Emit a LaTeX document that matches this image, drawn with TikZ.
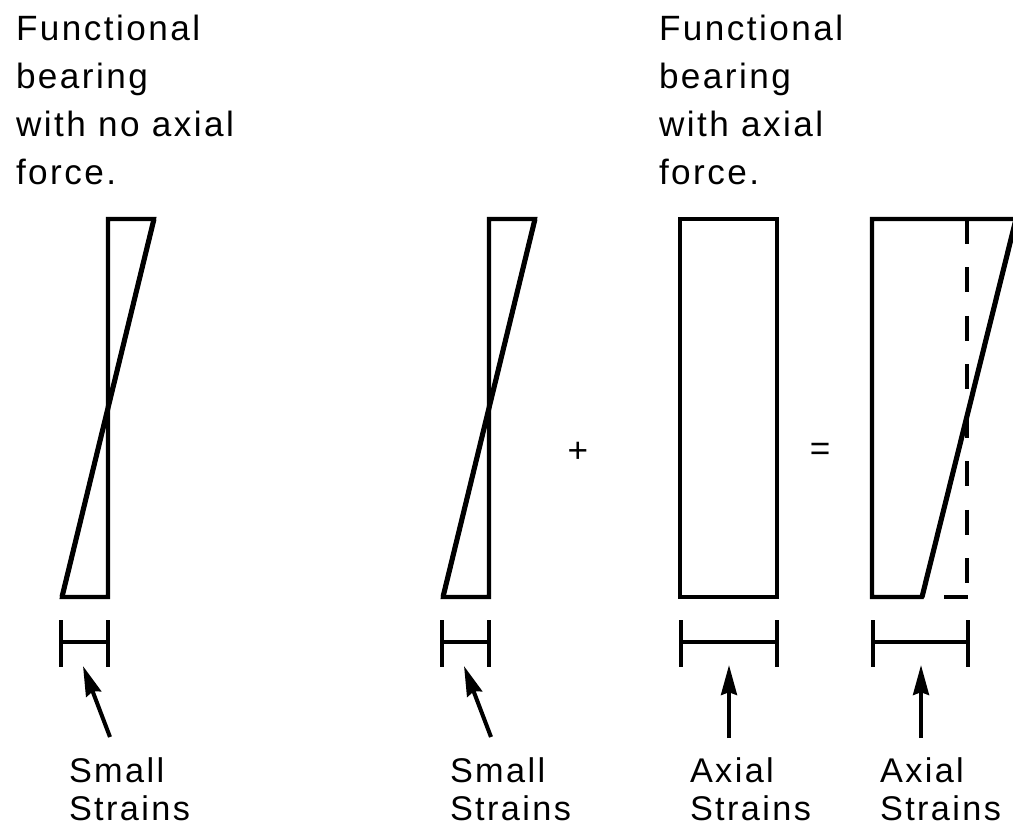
\documentclass[tikz,border=0pt]{standalone}
\usepackage{fontspec}
\setmainfont{Liberation Sans}[LetterSpace=7]
\usetikzlibrary{arrows.meta}
\begin{document}
\begin{tikzpicture}[x=.02cm, y=-.02cm, >={Stealth[length=17pt, width=9pt, inset=1.5pt]},
    line width=2.3pt,
    txt/.style={anchor=north west, inner sep=0pt, align=left, font=\fontsize{20}{27.4}\selectfont},
    strain/.style={txt, font=\fontsize{19.5}{21.6}\selectfont},
    sign/.style={font=\fontsize{20}{24}\selectfont}]
\useasboundingbox (0,0) rectangle (1013,828);
\node[txt] (hdA) at (14,13) {Functional\\bearing\\with no axial\\force.};
\node[txt] (hdB) at (657,13) {Functional\\bearing\\with axial\\force.};
% bending only, drawn twice
\foreach \s/\n in {0/1,381/2}
{
    \draw (\s+108,219)--(\s+154,219)--(\s+62,597)--(\s+108,597)--cycle;
    \draw[line width=2.9pt] (\s+154,219)--(\s+62,597);
    \draw (\s+61,620)--(\s+61,667) (\s+61,642)--(\s+108,642) (\s+108,620)--(\s+108,667);
    \node[strain] (sm\n) at (\s+67,756) {Small\\Strains};
    \coordinate (smtip\n) at (\s+83,666);
    \coordinate (smtail\n) at (\s+110,737);
    \draw[->] (smtail\n)--(smtip\n);
}
\node[sign] (plus) at (578,452) {+};
% axial part
\draw (680,219) rectangle (777,597);
\draw (681,620)--(681,667) (681,642)--(777,642) (777,620)--(777,667);
\node[strain] (ax1) at (688,756) {Axial\\Strains};
\coordinate (axtip1) at (729,665);
\coordinate (axtail1) at (729,738);
\draw[->] (axtail1)--(axtip1);
\node[sign] (eq) at (820,452) {=};
% sum
\draw (872,219)--(1016,219)--(922,597)--(872,597)--cycle;
\draw[line width=2.9pt] (1016,219)--(922,597);
\draw[dash pattern=on .5cm off .47cm] (967,219)--(967,584);
\draw (944,597)--(968,597);
\draw (873,620)--(873,667) (873,642)--(968,642) (968,620)--(968,667);
\node[strain] (ax2) at (878,756) {Axial\\Strains};
\coordinate (axtip2) at (921,665);
\coordinate (axtail2) at (921,738);
\draw[->] (axtail2)--(axtip2);
\end{tikzpicture}
\end{document}
